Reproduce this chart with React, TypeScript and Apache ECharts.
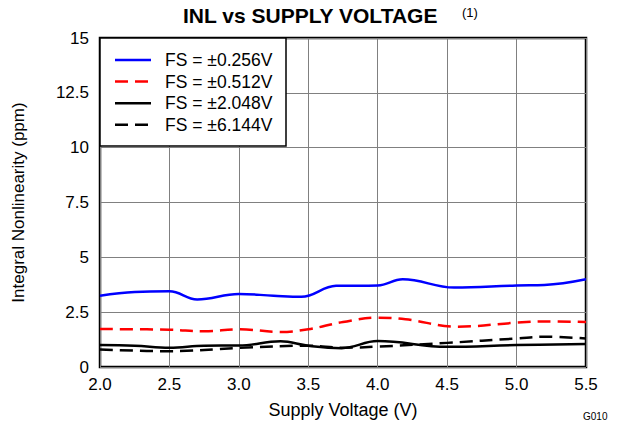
import React, { useEffect, useRef } from "react";
import * as echarts from "echarts";

const xTicks = [2.0, 2.5, 3.0, 3.5, 4.0, 4.5, 5.0, 5.5];
const yTicks = [0, 2.5, 5, 7.5, 10, 12.5, 15];
const seriesNames = ["FS = ±0.256V", "FS = ±0.512V", "FS = ±2.048V", "FS = ±6.144V"];

const fs0256: [number, number][] = [
  [2.0, 3.25], [2.25, 3.42], [2.5, 3.45], [2.7, 3.08], [3.0, 3.33], [3.25, 3.25],
  [3.45, 3.2], [3.7, 3.7], [4.0, 3.72], [4.18, 4.0], [4.55, 3.62], [5.0, 3.72],
  [5.2, 3.74], [5.5, 4.0],
];
const fs0512: [number, number][] = [
  [2.0, 1.73], [2.5, 1.7], [2.75, 1.63], [3.0, 1.72], [3.3, 1.6], [3.5, 1.72],
  [3.75, 2.05], [4.0, 2.25], [4.2, 2.18], [4.57, 1.84], [5.0, 2.02], [5.2, 2.08],
  [5.5, 2.05],
];
const fs2048: [number, number][] = [
  [2.0, 1.0], [2.25, 0.97], [2.5, 0.88], [2.75, 0.97], [3.0, 0.98], [3.3, 1.17],
  [3.5, 0.97], [3.74, 0.86], [4.0, 1.18], [4.5, 0.92], [5.0, 1.0], [5.5, 1.05],
];
const fs6144: [number, number][] = [
  [2.0, 0.8], [2.5, 0.72], [3.0, 0.87], [3.5, 0.97], [3.75, 0.88], [4.0, 0.93],
  [4.5, 1.1], [5.0, 1.3], [5.2, 1.38], [5.5, 1.3],
];

const seriesData = [fs0256, fs0512, fs2048, fs6144];
const seriesColors = ["#0000ff", "#ff0000", "#000000", "#000000"];
const seriesDashed = [false, true, false, true];

const FONT = "Liberation Sans, Arial, sans-serif";
const DASH = [13, 7];

export default function App() {
  const ref = useRef<HTMLDivElement>(null);
  useEffect(() => {
    if (!ref.current) return;
    const chart = echarts.init(ref.current, undefined, { renderer: "svg" });

    const legendLeft = 100;
    const legendTop = 38;
    const rowY = (i: number) => legendTop + 22 + i * 21.6;
    const legendItems: any[] = [
      {
        type: "rect",
        shape: { x: legendLeft, y: legendTop, width: 186, height: 108 },
        style: { fill: "#fff", stroke: "#000", lineWidth: 1.5 },
        z: 10,
      },
    ];
    seriesNames.forEach((name, i) => {
      legendItems.push({
        type: "line",
        shape: { x1: 115, y1: rowY(i), x2: 151, y2: rowY(i) },
        style: {
          stroke: seriesColors[i],
          lineWidth: 2.5,
          lineDash: seriesDashed[i] ? DASH : null,
        },
        z: 11,
      });
      legendItems.push({
        type: "text",
        x: 165,
        y: rowY(i),
        style: {
          text: name,
          font: `17.5px ${FONT}`,
          fill: "#000",
          textVerticalAlign: "middle",
          verticalAlign: "middle",
        },
        z: 11,
      });
    });

    chart.setOption({
      animation: false,
      backgroundColor: "#ffffff",
      textStyle: { fontFamily: FONT },
      grid: {
        left: 100, right: 31, top: 38, bottom: 56,
        containLabel: false,
        outerBoundsMode: "none",
        show: true, borderColor: "#000", borderWidth: 2.5, backgroundColor: "transparent",
      },
      xAxis: {
        type: "value",
        min: 2.0,
        max: 5.5,
        interval: 0.5,
        axisLine: { show: false },
        axisTick: { show: false },
        splitLine: { show: true, lineStyle: { color: "#808080", width: 1 } },
        axisLabel: {
          fontFamily: FONT, fontSize: 17, color: "#000", margin: 9,
          formatter: (v: number) => (xTicks.includes(v) ? v.toFixed(1) : ""),
        },
        name: "Supply Voltage (V)",
        nameLocation: "middle",
        nameGap: 34,
        nameTextStyle: { fontFamily: FONT, fontSize: 18, color: "#000" },
      },
      yAxis: {
        type: "value",
        min: 0,
        max: 15,
        interval: 2.5,
        axisLine: { show: false },
        axisTick: { show: false },
        splitLine: { show: true, lineStyle: { color: "#808080", width: 1 } },
        axisLabel: {
          fontFamily: FONT, fontSize: 17, color: "#000", margin: 11,
          formatter: (v: number) => (yTicks.includes(v) ? String(v) : ""),
        },
        name: "Integral Nonlinearity (ppm)",
        nameLocation: "middle",
        nameGap: 73,
        nameTextStyle: { fontFamily: FONT, fontSize: 17, color: "#000" },
      },
      series: seriesData.map((d, i) => ({
        name: seriesNames[i],
        type: "line",
        data: d,
        smooth: 0.4,
        showSymbol: false,
        symbol: "none",
        lineStyle: {
          color: seriesColors[i],
          width: 2.5,
          type: seriesDashed[i] ? DASH : "solid",
        },
        itemStyle: { color: seriesColors[i] },
        z: 3,
      })),
      graphic: [
        ...legendItems,
        {
          type: "text",
          left: 183,
          top: 5,
          style: { text: "INL vs SUPPLY VOLTAGE", font: `bold 21px ${FONT}`, fill: "#000" },
        },
        {
          type: "text",
          left: 462,
          top: 6,
          style: { text: "(1)", font: `13px ${FONT}`, fill: "#000" },
        },
        {
          type: "text",
          left: 583,
          top: 411,
          style: { text: "G010", font: `10px ${FONT}`, fill: "#000" },
        },
      ],
    });
    return () => chart.dispose();
  }, []);
  return <div ref={ref} style={{ width: 617, height: 423, position: "absolute", left: 0, top: 0 }} />;
}
